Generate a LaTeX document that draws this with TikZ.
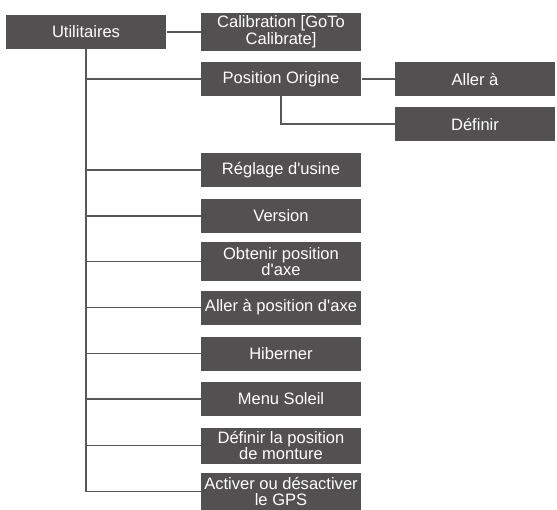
\documentclass[tikz,border=0pt]{standalone}
\usepackage{fontspec}
\setmainfont{Liberation Sans}
\definecolor{boxgray}{RGB}{82,80,80}
\definecolor{linegray}{RGB}{88,88,88}
\tikzset{every picture/.style={line width=0.75pt}}
\tikzset{menubox/.style={draw=none,fill=boxgray,text=white,minimum width=120pt,minimum height=25.5pt,inner sep=1pt,align=center,font=\fontsize{12.4}{11.5}\selectfont},
  menuline/.style={draw=linegray,line width=1pt}}

\begin{document}
\begin{tikzpicture}[x=0.75pt,y=0.75pt,yscale=-1,xscale=1]
\useasboundingbox (0,0) rectangle (557,510);

% Text Node
\node [menubox] (util) at (86,32) {Utilitaires};
% Text Node
\node [menubox,minimum height=28.5pt] (calib) at (281,32) {Calibration [GoTo\\Calibrate]};
% Text Node
\node [menubox] (posorig) at (281,79) {Position Origine};
% Text Node
\node [menubox] (allera) at (475,79) {Aller à};
% Text Node
\node [menubox] (definir) at (475,124) {Définir};
% Text Node
\node [menubox] (reglage) at (281,170) {Réglage d\textquotesingle usine};
% Text Node
\node [menubox] (version) at (281,216) {Version};
% Text Node
\node [menubox,minimum height=29pt] (obtenir) at (281,261.5) {Obtenir position\\d\textquotesingle axe};
% Text Node
\node [menubox] (allerpos) at (281,307.5) {Aller à position d\textquotesingle axe};
% Text Node
\node [menubox] (hiberner) at (281,353.5) {Hiberner};
% Text Node
\node [menubox] (soleil) at (281,399) {Menu Soleil};
% Text Node
\node [menubox,minimum height=27pt] (monture) at (281,445.5) {Définir la position\\de monture};
% Text Node
\node [menubox,minimum height=27.75pt] (gps) at (281,491.5) {Activer ou désactiver\\le GPS};

%Straight Lines
\draw [menuline] (util.east) -- (calib.west);
%Straight Lines
\draw [menuline] (util.south) |- (gps.west);
%Straight Lines
\draw [menuline] (util.south |- posorig.west) -- (posorig.west);
%Straight Lines
\draw [menuline] (util.south |- reglage.west) -- (reglage.west);
%Straight Lines
\draw [menuline] (util.south |- version.west) -- (version.west);
%Straight Lines
\draw [menuline] (util.south |- obtenir.west) -- (obtenir.west);
%Straight Lines
\draw [menuline] (util.south |- allerpos.west) -- (allerpos.west);
%Straight Lines
\draw [menuline] (util.south |- hiberner.west) -- (hiberner.west);
%Straight Lines
\draw [menuline] (util.south |- soleil.west) -- (soleil.west);
%Straight Lines
\draw [menuline] (util.south |- monture.west) -- (monture.west);
%Straight Lines
\draw [menuline] (posorig.east) -- (allera.west);
%Straight Lines
\draw [menuline] (posorig.south) |- (definir.west);

\end{tikzpicture}
\end{document}
